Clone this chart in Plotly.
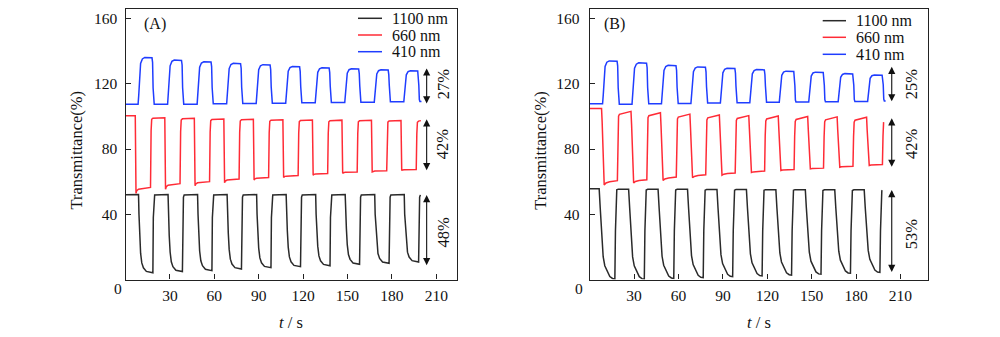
import plotly.graph_objects as go

# ---------------- data ----------------
# Panel (A): (time s, transmittance %) points for each wavelength
nm1100_A = [
    (0, 52.0),
    (8.8, 52.1), (9.1, 40), (9.6, 26.2), (10.2, 16.2), (11.0, 10.2), (12.1, 7.2), (14.1, 5.0), (18.5, 4.2), (18.8, 38), (19.2, 50.5), (19.7, 51.9),
    (28.75, 52.1), (29.05, 40), (29.55, 26.9), (30.15, 16.9), (30.95, 10.9), (32.05, 7.9), (34.05, 5.7), (38.45, 4.9), (38.75, 38), (39.15, 50.5), (39.65, 51.9),
    (48.7, 52.1), (49.0, 40), (49.5, 27.5), (50.1, 17.5), (50.9, 11.5), (52.0, 8.5), (54.0, 6.3), (58.4, 5.5), (58.7, 38), (59.1, 50.5), (59.6, 51.9),
    (68.65, 52.1), (68.95, 40), (69.45, 28.5), (70.05, 18.5), (70.85, 12.5), (71.95, 9.5), (73.95, 7.3), (78.35, 6.5), (78.65, 38), (79.05, 50.5), (79.55, 51.9),
    (88.6, 52.1), (88.9, 40), (89.4, 29.3), (90.0, 19.3), (90.8, 13.3), (91.9, 10.3), (93.9, 8.1), (98.3, 7.3), (98.6, 38), (99.0, 50.5), (99.5, 51.9),
    (108.55, 52.1), (108.85, 40), (109.35, 29.9), (109.95, 19.9), (110.75, 13.9), (111.85, 10.9), (113.85, 8.7), (118.25, 7.9), (118.55, 38), (118.95, 50.5), (119.45, 51.9),
    (128.5, 52.1), (128.8, 40), (129.3, 30.5), (129.9, 20.5), (130.7, 14.5), (131.8, 11.5), (133.8, 9.3), (138.2, 8.5), (138.5, 38), (138.9, 50.5), (139.4, 51.9),
    (148.45, 52.1), (148.75, 40), (149.25, 31.4), (149.85, 21.4), (150.65, 15.4), (151.75, 12.4), (153.75, 10.2), (158.15, 9.4), (158.45, 38), (158.85, 50.5), (159.35, 51.9),
    (168.4, 52.1), (168.7, 40), (169.2, 32.0), (169.8, 22.0), (170.6, 16.0), (171.7, 13.0), (173.7, 10.8), (178.1, 10.0), (178.4, 38), (178.8, 50.5), (179.3, 51.9),
    (188.35, 52.1), (188.65, 40), (189.15, 32.8), (189.75, 22.8), (190.55, 16.8), (191.65, 13.8), (193.65, 11.6), (198.05, 10.8), (198.35, 38), (198.75, 50.5), (199.25, 51.9),
]

nm660_A = [
    (0, 100.4),
    (6.6, 100.4), (7.1, 52.8), (7.6, 54.5), (8.8, 55.4), (16.9, 56.5), (17.3, 91.2), (17.7, 98.2), (18.5, 98.9),
    (26.55, 99.2), (27.05, 55.3), (27.55, 56.9), (28.75, 57.8), (36.85, 58.8), (37.25, 90.8), (37.65, 97.8), (38.45, 98.5),
    (46.5, 98.8), (47.0, 57.5), (47.5, 58.6), (48.7, 59.3), (56.8, 60.0), (57.2, 90.4), (57.6, 97.4), (58.4, 98.1),
    (66.45, 98.4), (66.95, 59.4), (67.45, 60.4), (68.65, 61.0), (76.75, 61.6), (77.15, 90.2), (77.55, 97.2), (78.35, 97.9),
    (86.4, 98.2), (86.9, 61.0), (87.4, 61.7), (88.6, 62.1), (96.7, 62.6), (97.1, 90.0), (97.5, 97.0), (98.3, 97.7),
    (106.35, 98.0), (106.85, 62.6), (107.35, 63.1), (108.55, 63.4), (116.65, 63.8), (117.05, 89.8), (117.45, 96.8), (118.25, 97.5),
    (126.3, 97.8), (126.8, 64.0), (127.3, 64.5), (128.5, 64.7), (136.6, 65.0), (137.0, 89.7), (137.4, 96.7), (138.2, 97.4),
    (146.25, 97.7), (146.75, 65.1), (147.25, 65.5), (148.45, 65.7), (156.55, 65.9), (156.95, 89.6), (157.35, 96.6), (158.15, 97.3),
    (166.2, 97.6), (166.7, 66.0), (167.2, 66.3), (168.4, 66.5), (176.5, 66.7), (176.9, 89.5), (177.3, 96.5), (178.1, 97.2),
    (186.15, 97.5), (186.65, 66.9), (187.15, 67.2), (188.35, 67.3), (196.45, 67.5), (196.85, 89.4), (197.25, 96.4), (198.05, 97.1),
    (199.6, 97.4),
]

nm410_A = [
    (0, 107.4),
    (8.5, 107.4), (8.95, 113.1), (9.45, 123.8), (10.2, 132.4), (11.4, 135.2), (13.0, 136.1), (17.9, 135.9), (18.3, 133.1), (18.65, 117.4), (19.0, 108.6), (19.4, 107.4),
    (28.45, 107.4), (28.9, 112.8), (29.4, 122.8), (30.15, 131.0), (31.35, 133.7), (32.95, 134.5), (37.85, 134.3), (38.25, 131.5), (38.6, 117.5), (38.95, 108.7), (39.35, 107.5),
    (48.4, 107.5), (48.85, 112.7), (49.35, 122.3), (50.1, 130.1), (51.3, 132.7), (52.9, 133.5), (57.8, 133.3), (58.2, 130.5), (58.55, 117.7), (58.9, 108.9), (59.3, 107.7),
    (68.35, 107.7), (68.8, 112.7), (69.3, 121.8), (70.05, 129.3), (71.25, 131.8), (72.85, 132.5), (77.75, 132.3), (78.15, 129.5), (78.5, 117.9), (78.85, 109.1), (79.25, 107.9),
    (88.3, 107.9), (88.75, 112.7), (89.25, 121.5), (90.0, 128.6), (91.2, 131.0), (92.8, 131.7), (97.7, 131.5), (98.1, 128.7), (98.45, 118.1), (98.8, 109.3), (99.2, 108.1),
    (108.25, 108.1), (108.7, 112.6), (109.2, 120.9), (109.95, 127.7), (111.15, 129.9), (112.75, 130.6), (117.65, 130.4), (118.05, 127.6), (118.4, 118.3), (118.75, 109.5), (119.15, 108.3),
    (128.2, 108.3), (128.65, 112.6), (129.15, 120.6), (129.9, 127.0), (131.1, 129.2), (132.7, 129.8), (137.6, 129.6), (138.0, 126.8), (138.35, 118.5), (138.7, 109.7), (139.1, 108.5),
    (148.15, 108.5), (148.6, 112.6), (149.1, 120.3), (149.85, 126.5), (151.05, 128.6), (152.65, 129.2), (157.55, 129.0), (157.95, 126.2), (158.3, 118.7), (158.65, 109.9), (159.05, 108.7),
    (168.1, 108.7), (168.55, 112.7), (169.05, 120.0), (169.8, 126.0), (171.0, 128.0), (172.6, 128.6), (177.5, 128.4), (177.9, 125.6), (178.25, 118.9), (178.6, 110.1), (179.0, 108.9),
    (188.05, 108.9), (188.5, 112.7), (189.0, 119.8), (189.75, 125.5), (190.95, 127.4), (192.55, 128.0), (197.45, 127.8), (197.85, 125.0), (198.2, 119.1), (198.55, 110.3), (198.95, 109.1),
    (200.0, 109.1),
]

# Panel (B)
nm1100_B = [
    (0, 55.7),
    (6.4, 55.7), (7.1, 44), (8.0, 30), (9.1, 14.0), (10.2, 8.5), (11.3, 6.0), (13.6, 1.9), (15.4, 0.7), (17.0, 0.5), (17.4, 30), (17.8, 50), (18.3, 55.0), (19.3, 55.4),
    (26.3, 55.4), (27.0, 44), (27.9, 30), (29.0, 13.9), (30.1, 8.4), (31.2, 5.9), (33.5, 1.8), (35.3, 0.6), (36.9, 0.4), (37.3, 30), (37.7, 50), (38.2, 54.9), (39.2, 55.3),
    (46.2, 55.3), (46.9, 44), (47.8, 30), (48.9, 14.3), (50.0, 8.8), (51.1, 6.3), (53.4, 2.2), (55.2, 1.0), (56.8, 0.8), (57.2, 30), (57.6, 50), (58.1, 54.9), (59.1, 55.3),
    (66.1, 55.3), (66.8, 44), (67.7, 30), (68.8, 14.7), (69.9, 9.2), (71.0, 6.7), (73.3, 2.6), (75.1, 1.4), (76.7, 1.2), (77.1, 30), (77.5, 50), (78.0, 54.8), (79.0, 55.2),
    (86.0, 55.2), (86.7, 44), (87.6, 30), (88.7, 15.3), (89.8, 9.8), (90.9, 7.3), (93.2, 3.2), (95.0, 2.0), (96.6, 1.8), (97.0, 30), (97.4, 50), (97.9, 54.8), (98.9, 55.2),
    (105.9, 55.2), (106.6, 44), (107.5, 30), (108.6, 15.8), (109.7, 10.3), (110.8, 7.8), (113.1, 3.7), (114.9, 2.5), (116.5, 2.3), (116.9, 30), (117.3, 50), (117.8, 54.7), (118.8, 55.1),
    (125.8, 55.1), (126.5, 44), (127.4, 30), (128.5, 16.3), (129.6, 10.8), (130.7, 8.3), (133.0, 4.2), (134.8, 3.0), (136.4, 2.8), (136.8, 30), (137.2, 50), (137.7, 54.7), (138.7, 55.1),
    (145.7, 55.1), (146.4, 44), (147.3, 30), (148.4, 16.8), (149.5, 11.3), (150.6, 8.8), (152.9, 4.7), (154.7, 3.5), (156.3, 3.3), (156.7, 30), (157.1, 50), (157.6, 54.6), (158.6, 55.0),
    (165.6, 55.0), (166.3, 44), (167.2, 30), (168.3, 17.4), (169.4, 11.9), (170.5, 9.4), (172.8, 5.3), (174.6, 4.1), (176.2, 3.9), (176.6, 30), (177.0, 50), (177.5, 54.6), (178.5, 55.0),
    (185.5, 55.0), (186.2, 44), (187.1, 30), (188.2, 17.9), (189.3, 12.4), (190.4, 9.9), (192.7, 5.8), (194.5, 4.6), (196.1, 4.4), (196.5, 30), (196.9, 50), (197.4, 54.4),
    (197.8, 54.7),
]

nm660_B = [
    (0, 104.9),
    (8.0, 104.9), (8.4, 96.9), (9.4, 63.0), (9.8, 58.0), (11.0, 59.2), (13.5, 60.0), (18.7, 60.6), (19.1, 91.1), (19.5, 100.1), (20.1, 101.3),
    (27.9, 103.1), (28.3, 95.1), (29.3, 64.2), (29.7, 59.2), (30.9, 60.1), (33.4, 60.7), (38.6, 61.2), (39.0, 90.2), (39.4, 99.2), (40.0, 100.4),
    (47.8, 102.2), (48.2, 94.2), (49.2, 65.8), (49.6, 60.8), (50.8, 61.7), (53.3, 62.3), (58.5, 62.8), (58.9, 89.4), (59.3, 98.4), (59.9, 99.6),
    (67.7, 101.4), (68.1, 93.4), (69.1, 67.4), (69.5, 62.4), (70.7, 63.2), (73.2, 63.8), (78.4, 64.2), (78.8, 88.9), (79.2, 97.9), (79.8, 99.1),
    (87.6, 100.9), (88.0, 92.9), (89.0, 69.0), (89.4, 64.0), (90.6, 64.6), (93.1, 65.0), (98.3, 65.3), (98.7, 88.5), (99.1, 97.5), (99.7, 98.7),
    (107.5, 100.5), (107.9, 92.5), (108.9, 70.6), (109.3, 65.6), (110.5, 66.0), (113.0, 66.3), (118.2, 66.5), (118.6, 88.2), (119.0, 97.2), (119.6, 98.4),
    (127.4, 100.2), (127.8, 92.2), (128.8, 71.8), (129.2, 66.8), (130.4, 67.1), (132.9, 67.3), (138.1, 67.4), (138.5, 87.9), (138.9, 96.9), (139.5, 98.1),
    (147.3, 99.9), (147.7, 91.9), (148.7, 72.8), (149.1, 67.8), (150.3, 68.0), (152.8, 68.2), (158.0, 68.3), (158.4, 87.7), (158.8, 96.7), (159.4, 97.9),
    (167.2, 99.7), (167.6, 91.7), (168.6, 73.8), (169.0, 68.8), (170.2, 69.1), (172.7, 69.3), (177.9, 69.4), (178.3, 87.5), (178.7, 96.5), (179.3, 97.7),
    (187.1, 99.5), (187.5, 91.5), (188.5, 74.9), (188.9, 69.9), (190.1, 70.2), (192.6, 70.4), (197.8, 70.5), (198.2, 88.0), (198.6, 96.5),
]

nm410_B = [
    (0, 107.7),
    (8.7, 107.7), (9.15, 113.0), (9.65, 122.7), (10.4, 130.6), (11.6, 133.2), (13.2, 134.0), (18.5, 133.8), (18.9, 131.0), (19.25, 117.5), (19.6, 108.7), (20.0, 107.5),
    (28.6, 107.5), (29.05, 112.6), (29.55, 121.9), (30.3, 129.5), (31.5, 132.0), (33.1, 132.8), (38.4, 132.6), (38.8, 129.8), (39.15, 117.7), (39.5, 108.9), (39.9, 107.7),
    (48.5, 107.7), (48.95, 112.4), (49.45, 121.2), (50.2, 128.2), (51.4, 130.6), (53.0, 131.3), (58.3, 131.1), (58.7, 128.3), (59.05, 117.9), (59.4, 109.1), (59.8, 107.9),
    (68.4, 107.9), (68.85, 112.4), (69.35, 120.7), (70.1, 127.4), (71.3, 129.6), (72.9, 130.3), (78.2, 130.1), (78.6, 127.3), (78.95, 118.2), (79.3, 109.4), (79.7, 108.2),
    (88.3, 108.2), (88.75, 112.5), (89.25, 120.3), (90.0, 126.7), (91.2, 128.9), (92.8, 129.5), (98.1, 129.3), (98.5, 126.5), (98.85, 118.4), (99.2, 109.6), (99.6, 108.4),
    (108.2, 108.4), (108.65, 112.5), (109.15, 120.0), (109.9, 126.1), (111.1, 128.1), (112.7, 128.7), (118.0, 128.5), (118.4, 125.7), (118.75, 118.6), (119.1, 109.8), (119.5, 108.6),
    (128.1, 108.6), (128.55, 112.4), (129.05, 119.5), (129.8, 125.2), (131.0, 127.1), (132.6, 127.7), (137.9, 127.5), (138.3, 124.7), (138.65, 118.8), (139.0, 110.0), (139.4, 108.8),
    (148.0, 108.8), (148.45, 112.5), (148.95, 119.2), (149.7, 124.7), (150.9, 126.6), (152.5, 127.1), (157.8, 126.9), (158.2, 124.1), (158.55, 119.0), (158.9, 110.2), (159.3, 109.0),
    (167.9, 109.0), (168.35, 112.4), (168.85, 118.8), (169.6, 124.0), (170.8, 125.7), (172.4, 126.2), (177.7, 126.0), (178.1, 123.2), (178.45, 119.2), (178.8, 110.4), (179.2, 109.2),
    (187.8, 109.2), (188.25, 112.4), (188.75, 118.4), (189.5, 123.3), (190.7, 124.9), (192.3, 125.4), (197.6, 125.2), (198.0, 122.4), (198.35, 119.4), (198.7, 110.6), (199.1, 109.4),
    (200.0, 109.4),
]

series_names = ["1100 nm", "660 nm", "410 nm"]
series_colors = ["#2a2a2a", "#ff2b36", "#1f3dff"]
x_ticks = [30, 60, 90, 120, 150, 180, 210]
y_ticks = [40, 80, 120, 160]
panel_labels = ["(A)", "(B)"]

# modulation arrows: (t, top, bottom) and labels (text, y)
arrows_A = [(203.5, 129.4, 107.0), (203.5, 98.2, 66.1), (203.5, 51.8, 7.9)]
labels_A = [("27%", 119.8), ("42%", 83.1), ("48%", 29.0)]
arrows_B = [(204.1, 130.4, 108.3), (204.1, 98.8, 68.2), (204.1, 54.9, 3.8)]
labels_B = [("25%", 120.2), ("42%", 83.5), ("53%", 28.3)]

# ---------------- figure ----------------
FONT = "Liberation Serif, Times New Roman, serif"
W, H = 1000, 337


def PX(x):
    return x / W


def PY(y):
    return 1 - y / H


def split(pairs):
    return [p[0] for p in pairs], [p[1] for p in pairs]


fig = go.Figure()
panels = [
    ("x", "y", [nm1100_A, nm660_A, nm410_A]),
    ("x2", "y2", [nm1100_B, nm660_B, nm410_B]),
]
for xa, ya, data in panels:
    for name, color, pts in zip(series_names, series_colors, data):
        t, v = split(pts)
        fig.add_trace(go.Scatter(x=t, y=v, mode="lines", name=name,
                                 line=dict(color=color, width=1.5),
                                 xaxis=xa, yaxis=ya, showlegend=False))

Y0, Y1 = PY(279.6), PY(9)
axis_common = dict(showline=True, linecolor="#222", linewidth=1.3, mirror=True,
                   ticks="inside", ticklen=5, tickwidth=1.2, tickcolor="#222",
                   showgrid=False, zeroline=False,
                   tickfont=dict(family=FONT, size=15.5, color="#111"))

fig.update_layout(
    width=W, height=H, margin=dict(l=0, r=0, t=0, b=0),
    paper_bgcolor="white", plot_bgcolor="white",
    font=dict(family=FONT, color="#111"),
    xaxis=dict(domain=[PX(125.5), PX(457)], range=[0, 224], tickvals=x_ticks,
               anchor="y", ticklabelstandoff=2, **axis_common),
    yaxis=dict(domain=[Y0, Y1], range=[0, 165.8], tickvals=y_ticks,
               anchor="x", ticklabelstandoff=4, **axis_common),
    xaxis2=dict(domain=[PX(589.7), PX(927.7)], range=[0, 228.4], tickvals=x_ticks,
                anchor="y2", ticklabelstandoff=2, **axis_common),
    yaxis2=dict(domain=[Y0, Y1], range=[0, 165.8], tickvals=y_ticks,
                anchor="x2", ticklabelstandoff=6, **axis_common),
)

ann = []
shapes = []
# axis titles, origin labels, panel labels
for ytitle_x, xtitle_x, zero_x, lab, lab_x, lab_y in [
        (75.5, 291, 123.5, panel_labels[0], 155, 24),
        (539.8, 758.5, 585, panel_labels[1], 614.5, 23.5)]:
    ann.append(dict(text="Transmittance(%)", x=PX(ytitle_x), y=PY(150), xref="paper", yref="paper",
                    textangle=-90, showarrow=False, xanchor="center", yanchor="middle",
                    font=dict(family=FONT, size=16.5, color="#111")))
    ann.append(dict(text="<i>t</i> / s", x=PX(xtitle_x), y=PY(322), xref="paper", yref="paper",
                    showarrow=False, xanchor="center", yanchor="middle",
                    font=dict(family=FONT, size=16.5, color="#111")))
    ann.append(dict(text="0", x=PX(zero_x), y=PY(288), xref="paper", yref="paper",
                    showarrow=False, xanchor="right", yanchor="middle",
                    font=dict(family=FONT, size=15.5, color="#111")))
    ann.append(dict(text=lab, x=PX(lab_x), y=PY(lab_y), xref="paper", yref="paper",
                    showarrow=False, xanchor="center", yanchor="middle",
                    font=dict(family=FONT, size=16, color="#111")))

# legends (custom, to match compact row spacing)
for (lx0, lx1, tx, rows) in [(358, 382, 390, [18.3, 35.0, 51.7]),
                             (822.7, 846, 854, [20.7, 37.3, 54.3])]:
    for name, color, ry in zip(series_names, series_colors, rows):
        shapes.append(dict(type="line", xref="paper", yref="paper",
                           x0=PX(lx0), x1=PX(lx1), y0=PY(ry), y1=PY(ry),
                           line=dict(color=color, width=1.5)))
        ann.append(dict(text=name, x=PX(tx), y=PY(ry), xref="paper", yref="paper",
                        showarrow=False, xanchor="left", yanchor="middle",
                        font=dict(family=FONT, size=16, color="#111")))

# modulation arrows and percentages
for xr, yr, arrows, labels, tx in [("x", "y", arrows_A, labels_A, 214.7),
                                   ("x2", "y2", arrows_B, labels_B, 217.6)]:
    for (t, top, bot) in arrows:
        ann.append(dict(text="", x=t, y=top, ax=t, ay=bot, xref=xr, yref=yr,
                        axref=xr, ayref=yr, showarrow=True, arrowhead=2, arrowside="end+start",
                        arrowsize=1.3, arrowwidth=1.1, arrowcolor="#111",
                        standoff=0, startstandoff=0))
    for (txt, yv) in labels:
        ann.append(dict(text=txt, x=tx, y=yv, xref=xr, yref=yr, showarrow=False,
                        textangle=-90, xanchor="center", yanchor="middle",
                        font=dict(family=FONT, size=16.5, color="#111")))

fig.update_layout(annotations=ann, shapes=shapes)
fig.write_html("out.html")
